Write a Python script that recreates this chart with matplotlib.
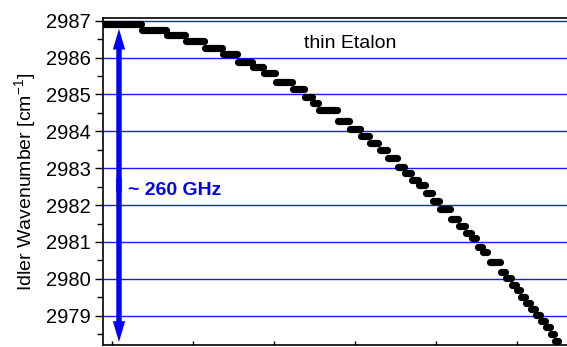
import matplotlib
matplotlib.use("Agg")
import matplotlib.pyplot as plt
from matplotlib.patches import FancyArrowPatch
from matplotlib.ticker import MultipleLocator, NullFormatter

plt.rcParams['font.family'] = ['Liberation Sans', 'DejaVu Sans']

# plateaus of the idler wavenumber while the thin etalon is tuned (a.u. on x)
step_start = [0.889, 1.370, 1.679, 1.914, 2.148, 2.370, 2.556, 2.741, 2.877, 3.025,
              3.235, 3.383, 3.481, 3.556, 3.790, 3.938, 4.074, 4.185, 4.309, 4.407,
              4.531, 4.617, 4.704, 4.790, 4.877, 4.963, 5.049, 5.185, 5.284, 5.370,
              5.444, 5.519, 5.580, 5.667, 5.802, 5.864, 5.938, 6.000, 6.049, 6.111,
              6.173, 6.235, 6.296, 6.358, 6.420, 6.469]
step_end = [1.358, 1.667, 1.901, 2.136, 2.358, 2.543, 2.728, 2.864, 3.012, 3.222,
            3.370, 3.469, 3.543, 3.778, 3.926, 4.062, 4.173, 4.284, 4.395, 4.519,
            4.605, 4.691, 4.778, 4.864, 4.951, 5.037, 5.173, 5.272, 5.358, 5.432,
            5.494, 5.568, 5.630, 5.790, 5.852, 5.926, 5.988, 6.037, 6.099, 6.160,
            6.222, 6.284, 6.346, 6.407, 6.457, 6.506]
wavenumber = [2986.91, 2986.75, 2986.61, 2986.45, 2986.26, 2986.10, 2985.88, 2985.75,
              2985.58, 2985.34, 2985.15, 2984.93, 2984.77, 2984.58, 2984.28, 2984.07,
              2983.88, 2983.69, 2983.50, 2983.28, 2983.04, 2982.87, 2982.68, 2982.55,
              2982.33, 2982.11, 2981.90, 2981.63, 2981.44, 2981.25, 2981.11, 2980.87,
              2980.73, 2980.46, 2980.19, 2980.03, 2979.84, 2979.70, 2979.51, 2979.35,
              2979.19, 2979.02, 2978.86, 2978.70, 2978.51, 2978.32]

arrow_x = 1.086
arrow_top = 2986.78
arrow_bottom = 2978.29

fig = plt.figure(figsize=(5.67, 3.47), dpi=100)
ax = fig.add_axes([0.1817, 0.006, 0.8183, 0.943])

ax.yaxis.grid(True, color='#1a1aff', linewidth=1.0)
ax.set_axisbelow(True)

steps = ax.hlines(wavenumber, step_start, step_end, colors='black', linewidth=5.2)
steps.set_capstyle('round')

# double arrow: two filled single-headed arrows from the middle outwards
arrow_mid = (arrow_top + arrow_bottom) / 2
for end in (arrow_top, arrow_bottom):
    ax.add_patch(FancyArrowPatch(
        (arrow_x, arrow_mid + (0.2 if end < arrow_mid else -0.2)), (arrow_x, end),
        arrowstyle='simple,head_length=1.15,head_width=0.68,tail_width=0.3',
        mutation_scale=13, color='#0000ff', lw=0, shrinkA=0, shrinkB=0))
ax.text(1.198, 2982.39, '~ 260 GHz', color='#0000ff', fontsize=14,
        fontweight='bold', va='center', ha='left')
ax.text(3.37, 2986.37, 'thin Etalon', fontsize=14, va='center', ha='left')

ax.set_xlim(0.889, 6.617)
ax.set_ylim(2978.21, 2987.08)
ax.yaxis.set_major_locator(MultipleLocator(1))
ax.yaxis.set_minor_locator(MultipleLocator(0.5))
ax.xaxis.set_major_locator(MultipleLocator(1))
ax.xaxis.set_major_formatter(NullFormatter())

ax.tick_params(axis='y', which='major', direction='out', length=6, width=1,
               labelsize=14.5, pad=3)
ax.tick_params(axis='y', which='minor', direction='out', length=4, width=1)
ax.tick_params(axis='x', which='major', direction='in', length=3, width=1)

ax.spines['right'].set_visible(False)
for s in ('left', 'top', 'bottom'):
    ax.spines[s].set_linewidth(1.2)

ax.set_ylabel('Idler Wavenumber [cm$^{\\mathregular{-1}}$]', fontsize=14, labelpad=5)

fig.savefig('out.png', dpi=100)
